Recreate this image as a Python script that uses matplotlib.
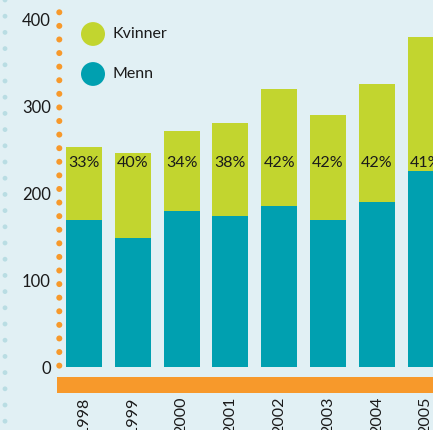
import matplotlib
matplotlib.use("Agg")
import matplotlib.pyplot as plt
from matplotlib.patches import Rectangle, Circle
import numpy as np

years = ["1998", "1999", "2000", "2001", "2002", "2003", "2004", "2005"]
menn = [169, 149, 180, 174, 186, 169, 190, 226]
kvinner = [85, 98, 92, 107, 134, 121, 136, 154]
pct_labels = ["33%", "40%", "34%", "38%", "42%", "42%", "42%", "41%"]
yticks = [0, 100, 200, 300, 400]

BG = "#e1f0f4"
TEAL = "#00a0b0"
LIME = "#c2d52f"
ORANGE = "#f7992b"
DOT = "#b9dde3"

plt.rcParams['font.family'] = ['Lato', 'DejaVu Sans']

W, H = 433, 430
fig = plt.figure(figsize=(W / 100, H / 100), dpi=100, facecolor=BG)

def fx(px):
    return px / W

def fy(py):
    return 1 - py / H

# left-edge decorative dots
for k in range(0, 28):
    y = 16.2 * k
    fig.patches.append(Circle((fx(5), fy(y)), 2.4 / W, transform=fig.transFigure,
                              facecolor=DOT, edgecolor='none'))

# axes: y=0 at px 367, y=400 at px 20; x left at px 59, right at 433
ax = fig.add_axes([fx(59), fy(367), fx(433) - fx(59), fy(20) - fy(367)])
ax.set_facecolor('none')
ax.set_ylim(0, 400)
ax.set_xlim(-0.512, 7.15)
for s in ax.spines.values():
    s.set_visible(False)

x = np.arange(len(years))
ax.bar(x, menn, width=0.74, color=TEAL, zorder=2)
ax.bar(x, kvinner, bottom=menn, width=0.74, color=LIME, zorder=2)

for xi, lab in zip(x, pct_labels):
    ax.text(xi, 235, lab, ha='center', va='center', fontsize=11.5, color='#1a1a1a', zorder=3)

ax.set_xticks([])
ax.set_yticks(yticks)
ax.set_yticklabels([str(t) for t in yticks], fontsize=12, color='#1a1a1a')
ax.tick_params(axis='y', length=0, pad=6)

# orange dotted axis line
for k in range(27):
    py = 12.3 + 13.59 * k
    fig.patches.append(Circle((fx(59.3), fy(py)), 3.0 / W, transform=fig.transFigure,
                              facecolor=ORANGE, edgecolor='none', zorder=5))

# orange base band
fig.patches.append(Rectangle((fx(57), fy(393)), fx(433) - fx(57), fy(377) - fy(393),
                             transform=fig.transFigure, facecolor=ORANGE, edgecolor='none'))

# year labels, rotated, hanging below band
for xi, yr in zip(x, years):
    ax.text(xi, -0.085, yr, transform=ax.get_xaxis_transform(), rotation=90,
            ha='center', va='top', fontsize=11.5, color='#1a1a1a', clip_on=False)

# legend
for py, lab, col in [(34, "Kvinner", LIME), (74, "Menn", TEAL)]:
    fig.patches.append(Circle((fx(93), fy(py)), 12 / W, transform=fig.transFigure,
                              facecolor=col, edgecolor='none'))
    fig.text(fx(113), fy(py), lab, ha='left', va='center', fontsize=11.5, color='#1a1a1a')

fig.savefig("out.png", dpi=100, facecolor=BG)
